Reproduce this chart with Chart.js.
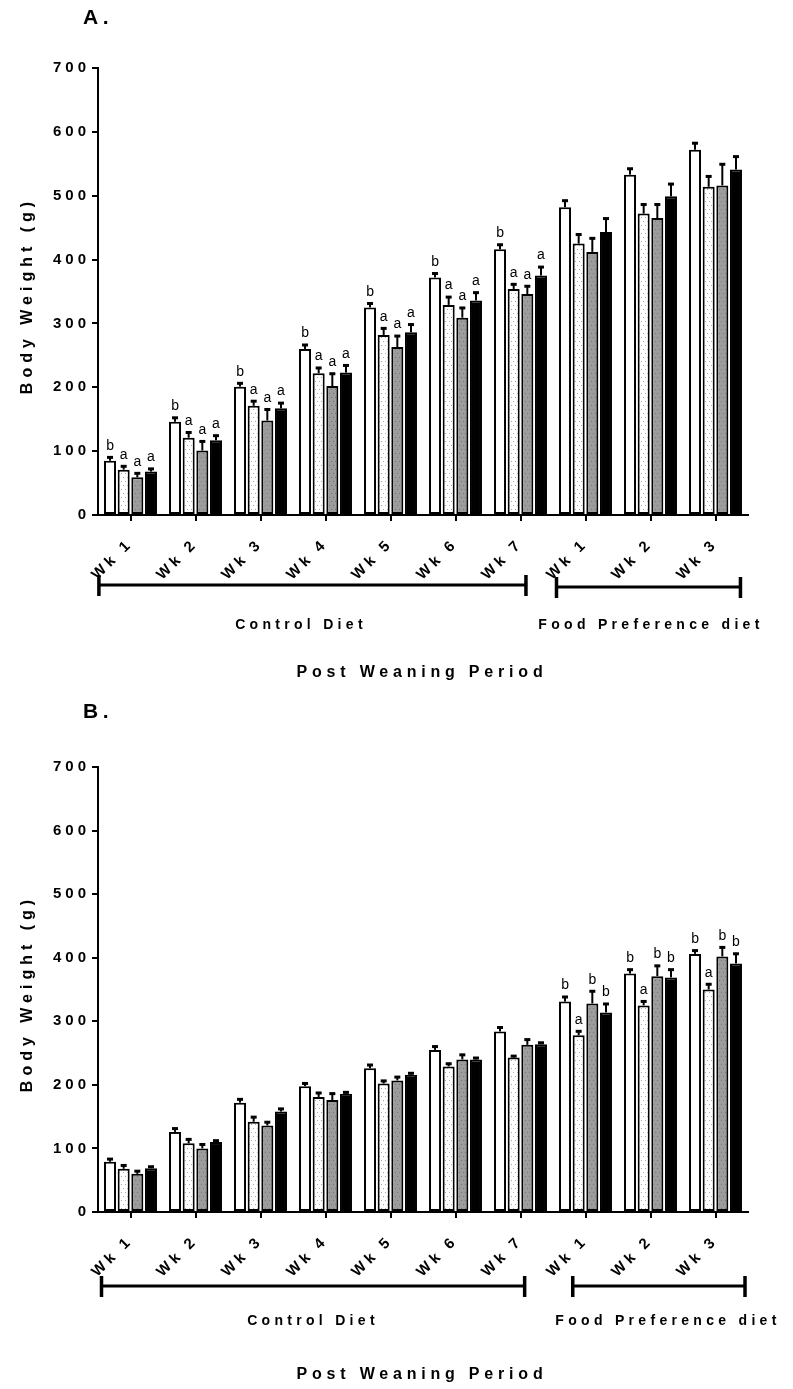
<!DOCTYPE html>
<html>
<head>
<meta charset="utf-8">
<script src="https://cdn.jsdelivr.net/npm/chart.js@4.4.1/dist/chart.umd.min.js"></script>
<style>
  html, body { margin: 0; padding: 0; background: #fff; }
  canvas { display: block; }
</style>
</head>
<body>
<canvas id="panelA" width="793" height="695"></canvas>
<canvas id="panelB" width="793" height="694"></canvas>
<script>
'use strict';

// weeks after weaning: 7 on control diet, then 3 on food preference diet
var weeks = ['Wk 1', 'Wk 2', 'Wk 3', 'Wk 4', 'Wk 5', 'Wk 6', 'Wk 7', 'Wk 1', 'Wk 2', 'Wk 3'];
var groupNames = ['Group 1', 'Group 2', 'Group 3', 'Group 4'];
var yTicks = [0, 100, 200, 300, 400, 500, 600, 700];

// panel A - body weight (g), mean and SEM
var aWhite     = [85, 146, 201, 260, 325, 372, 416, 482, 533, 572];
var aWhiteErr  = [6, 7, 6, 7, 7, 7, 8, 11, 10, 11];
var aDotted    = [71, 121, 171, 222, 282, 329, 354, 425, 472, 514];
var aDottedErr = [6, 9, 8, 9, 11, 13, 8, 15, 15, 17];
var aGrey      = [59, 101, 148, 202, 263, 309, 346, 412, 465, 516];
var aGreyErr   = [7, 15, 18, 20, 18, 16, 13, 22, 22, 34];
var aBlack     = [68, 117, 167, 223, 286, 336, 375, 443, 499, 541];
var aBlackErr  = [5, 8, 9, 12, 13, 13, 14, 22, 20, 21];
var aLetters   = [['b','a','a','a'], ['b','a','a','a'], ['b','a','a','a'], ['b','a','a','a'],
                  ['b','a','a','a'], ['b','a','a','a'], ['b','a','a','a'], null, null, null];

// panel B
var bWhite     = [79, 126, 172, 198, 226, 255, 284, 331, 375, 406];
var bWhiteErr  = [5, 6, 6, 5, 6, 6, 7, 8, 7, 6];
var bDotted    = [68, 108, 142, 181, 202, 229, 243, 278, 325, 350];
var bDottedErr = [6, 7, 8, 7, 5, 5, 3, 7, 7, 9];
var bGrey      = [60, 100, 136, 176, 207, 240, 263, 328, 371, 402];
var bGreyErr   = [5, 7, 6, 11, 6, 8, 9, 20, 17, 15];
var bBlack     = [69, 110, 158, 186, 216, 240, 264, 314, 369, 391];
var bBlackErr  = [3, 3, 5, 3, 3, 3, 3, 14, 13, 16];
var bLetters   = [null, null, null, null, null, null, null,
                  ['b','a','b','b'], ['b','a','b','b'], ['b','a','b','b']];

var FONT = '"Liberation Sans", Arial, sans-serif';

function dotPattern(ctx, bg, dot) {
    var c = document.createElement('canvas');
    c.width = 4; c.height = 8;
    var g = c.getContext('2d');
    g.fillStyle = bg;
    g.fillRect(0, 0, 4, 8);
    g.fillStyle = dot;
    g.fillRect(1, 1, 1, 1);
    g.fillRect(3, 5, 1, 1);
    return ctx.createPattern(c, 'repeat');
}

function drawText(ctx, text, x, y, font, spacing, align, baseline, angle) {
    ctx.save();
    ctx.font = font;
    ctx.letterSpacing = spacing + 'px';
    ctx.fillStyle = '#000';
    ctx.textAlign = align || 'center';
    ctx.textBaseline = baseline || 'middle';
    ctx.translate(x, y);
    if (angle) ctx.rotate(angle);
    ctx.fillText(text, 0, 0);
    ctx.restore();
}

function makeExtras(layout, errors, letters) {
    return {
        id: 'panelExtras',
        beforeDraw: function(chart) {
            chart.ctx.letterSpacing = '4px';
        },
        afterDatasetsDraw: function(chart) {
            var ctx = chart.ctx;
            var yScale = chart.scales.y;
            ctx.save();
            ctx.strokeStyle = '#000';
            ctx.fillStyle = '#000';
            chart.data.datasets.forEach(function(ds, di) {
                var meta = chart.getDatasetMeta(di);
                meta.data.forEach(function(bar, i) {
                    var top = yScale.getPixelForValue(ds.data[i] + errors[di][i]);
                    ctx.lineWidth = 2;
                    ctx.beginPath();
                    ctx.moveTo(bar.x, bar.y);
                    ctx.lineTo(bar.x, top);
                    ctx.stroke();
                    ctx.fillRect(bar.x - 3, top - 1, 6, 3);
                    if (letters[i]) {
                        drawText(ctx, letters[i][di], bar.x, top - 4,
                                 '14px ' + FONT, 0, 'center', 'bottom');
                    }
                });
            });
            ctx.restore();
        },
        afterDraw: function(chart) {
            var ctx = chart.ctx;
            var x = chart.scales.x;
            var area = chart.chartArea;
            ctx.save();
            ctx.letterSpacing = '0px';
            ctx.fillStyle = '#000';
            ctx.strokeStyle = '#000';
            layout.spans.forEach(function(s) {
                var x0 = x.getPixelForValue(s.from);
                var x1 = x.getPixelForValue(s.to);
                ctx.lineWidth = 3;
                ctx.beginPath();
                ctx.moveTo(x0, s.y);
                ctx.lineTo(x1, s.y);
                ctx.stroke();
                ctx.fillRect(x0 - 1.5, s.y - 10, 3.5, 21);
                ctx.fillRect(x1 - 1.5, s.y - 10, 3.5, 21);
                drawText(ctx, s.text, s.textX, layout.labelY, 'bold 14px ' + FONT, 4.3);
            });
            drawText(ctx, 'Post Weaning Period', 422, layout.footY, 'bold 16px ' + FONT, 4.8);
            drawText(ctx, layout.title, 83, layout.titleY, 'bold 21px ' + FONT, 4.5, 'left');
            drawText(ctx, 'Body Weight (g)', 28, (area.top + area.bottom) / 2 + 4,
                     'bold 16px ' + FONT, 5, 'center', 'middle', -Math.PI / 2);
            ctx.restore();
        }
    };
}

function buildPanel(id, series, errors, letters, layout) {
    var canvas = document.getElementById(id);
    var ctx = canvas.getContext('2d');
    var fills = ['#ffffff', dotPattern(ctx, '#ffffff', '#a8a8a8'),
                 dotPattern(ctx, '#9c9c9c', '#767676'), '#000000'];
    var datasets = series.map(function(values, i) {
        return {
            label: groupNames[i],
            data: values,
            backgroundColor: fills[i],
            borderColor: '#000',
            borderWidth: 2,
            borderSkipped: false,
            barPercentage: 0.88,
            categoryPercentage: 0.84
        };
    });
    return new Chart(ctx, {
        type: 'bar',
        data: { labels: weeks, datasets: datasets },
        plugins: [makeExtras(layout, errors, letters)],
        options: {
            responsive: false,
            animation: false,
            events: [],
            layout: { padding: { top: layout.top, right: 45, bottom: 0, left: 0 } },
            plugins: { legend: { display: false }, tooltip: { enabled: false } },
            scales: {
                x: {
                    offset: true,
                    grid: { drawOnChartArea: false, offset: false, tickLength: 6,
                            color: '#000', lineWidth: 2 },
                    border: { color: '#000', width: 2 },
                    ticks: { minRotation: 45, maxRotation: 45, padding: 14, color: '#000',
                             font: { family: FONT, size: 15, weight: 'bold' } },
                    afterFit: function(scale) { scale.height = layout.xHeight; }
                },
                y: {
                    min: 0,
                    max: 700,
                    afterBuildTicks: function(scale) {
                        scale.ticks = yTicks.map(function(v) { return { value: v }; });
                    },
                    grid: { drawOnChartArea: false, tickLength: 6, color: '#000', lineWidth: 2 },
                    border: { color: '#000', width: 2 },
                    ticks: { padding: 2, color: '#000',
                             font: { family: FONT, size: 15, weight: 'bold' } },
                    afterFit: function(scale) { scale.width = 98; }
                }
            }
        }
    });
}

buildPanel('panelA', [aWhite, aDotted, aGrey, aBlack],
           [aWhiteErr, aDottedErr, aGreyErr, aBlackErr], aLetters, {
    title: 'A.', titleY: 18, top: 68, xHeight: 180, labelY: 625, footY: 673,
    spans: [
        { text: 'Control Diet', from: -0.49, to: 6.08, y: 585, textX: 301 },
        { text: 'Food Preference diet', from: 6.55, to: 9.38, y: 587, textX: 651 }
    ]
});

buildPanel('panelB', [bWhite, bDotted, bGrey, bBlack],
           [bWhiteErr, bDottedErr, bGreyErr, bBlackErr], bLetters, {
    title: 'B.', titleY: 17, top: 72, xHeight: 177, labelY: 626, footY: 680,
    spans: [
        { text: 'Control Diet', from: -0.45, to: 6.06, y: 591, textX: 313 },
        { text: 'Food Preference diet', from: 6.8, to: 9.45, y: 591, textX: 668 }
    ]
});
</script>
</body>
</html>
